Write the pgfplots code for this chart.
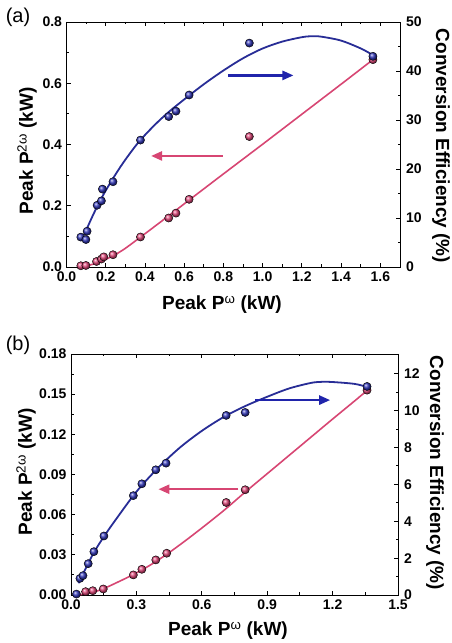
\documentclass[border=0pt]{standalone}
\usepackage{fontspec}
\setmainfont{Liberation Sans}
\usepackage{pgfplots}
\pgfplotsset{compat=1.18}
\usetikzlibrary{arrows.meta}

\definecolor{bline}{RGB}{40,45,150}
\definecolor{bball}{RGB}{50,55,185}
\definecolor{pline}{RGB}{215,70,115}
\definecolor{pball}{RGB}{222,70,120}

\pgfplotsset{
  panel/.style={scale only axis, clip=false, tick align=inside,
    major tick length=4pt, minor tick length=2.5pt,
    axis line style={line width=0.9pt},
    every tick/.style={line width=0.9pt, black},
    tick label style={font=\bfseries\fontsize{14}{14}\selectfont},
    xticklabel style={yshift=-1.5pt},
    yticklabel style={xshift=-1pt},
    /pgf/number format/assume math mode=true,
    minor x tick num=1, minor y tick num=1},
  rpanel/.style={panel, axis x line=none, axis y line*=right,
    yticklabel style={xshift=3.5pt}},
  bfit/.style={bline, line width=1.8pt, smooth, no marks},
  pfit/.style={pline, line width=1.6pt, smooth, no marks},
  bdots/.style={only marks, mark=ball, mark size=4.1pt, mark options={ball color=bball}},
  pdots/.style={only marks, mark=ball, mark size=4.1pt, mark options={ball color=pball}},
}
\tikzset{
  barrow/.style={bline!80!blue, line width=2.4pt, -{Triangle[length=11pt,width=9pt]}},
  parrow/.style={pline, line width=2.4pt, -{Triangle[length=11pt,width=9pt]}},
  lab/.style={font=\bfseries\fontsize{19}{19}\selectfont},
}

\begin{document}
\begin{tikzpicture}
\path[use as bounding box] (0,0) rectangle (451pt,643pt);

% ---------- panel (a) ----------
\begin{axis}[panel, at={(66.5pt,376pt)}, anchor=south west,
  width=333.5pt, height=245pt,
  xmin=0, xmax=1.7, ymin=0, ymax=0.8,
  xtick={0,0.2,0.4,0.6,0.8,1.0,1.2,1.4,1.6},
  ytick={0,0.2,0.4,0.6,0.8}, ytick pos=left,
  xticklabel style={/pgf/number format/.cd, fixed, fixed zerofill, precision=1},
  yticklabel style={/pgf/number format/.cd, fixed, fixed zerofill, precision=1}]
\addplot[pfit] coordinates {
 (0.09,0.002) (0.15,0.012) (0.20,0.025) (0.25,0.041) (0.30,0.061) (0.38,0.099)
 (0.50,0.157) (0.62,0.216) (0.80,0.304) (1.00,0.401) (1.20,0.499) (1.40,0.597) (1.56,0.676)};
\addplot[pdots] coordinates {
 (0.073,0.004) (0.099,0.005) (0.153,0.018) (0.178,0.026) (0.190,0.033) (0.237,0.040)
 (0.377,0.098) (0.521,0.160) (0.558,0.176) (0.625,0.221) (0.932,0.426) (1.562,0.677)};
\draw[parrow] (axis cs:0.797,0.3626) -- (axis cs:0.431,0.3626);
\end{axis}
\begin{axis}[rpanel, at={(66.5pt,376pt)}, anchor=south west,
  width=333.5pt, height=245pt,
  xmin=0, xmax=1.7, ymin=0, ymax=50,
  ytick={0,10,20,30,40,50}]
\addplot[bfit] coordinates {
 (0.09,6.6) (0.14,11.0) (0.19,14.9) (0.25,18.9) (0.30,21.9) (0.37,25.6) (0.45,29.0)
 (0.52,31.6) (0.60,34.2) (0.70,37.3) (0.80,40.1) (0.90,42.6) (1.00,44.6) (1.10,46.0)
 (1.20,46.9) (1.25,47.1) (1.30,47.0) (1.40,46.2) (1.50,44.6) (1.56,43.3)};
\addplot[bdots] coordinates {
 (0.073,6.1) (0.099,5.6) (0.105,7.3) (0.156,12.6) (0.178,13.5) (0.183,15.9) (0.237,17.4)
 (0.377,25.9) (0.521,30.7) (0.558,31.8) (0.625,35.1) (0.932,45.7) (1.562,43.0)};
\draw[barrow] (axis cs:0.824,39.1) -- (axis cs:1.157,39.1);
\end{axis}

% ---------- panel (b) ----------
\begin{axis}[panel, at={(71pt,48pt)}, anchor=south west,
  width=327pt, height=241pt,
  xmin=0, xmax=1.5, ymin=0, ymax=0.18,
  xtick={0,0.3,0.6,0.9,1.2,1.5},
  ytick={0,0.03,0.06,0.09,0.12,0.15,0.18}, ytick pos=left,
  xticklabel style={/pgf/number format/.cd, fixed, fixed zerofill, precision=1},
  yticklabel style={/pgf/number format/.cd, fixed, fixed zerofill, precision=2}]
\addplot[pfit] coordinates {
 (0.03,0.000) (0.08,0.0012) (0.12,0.003) (0.16,0.0055) (0.20,0.0085) (0.28,0.0148)
 (0.36,0.022) (0.44,0.0305) (0.52,0.040) (0.60,0.050) (0.70,0.063) (0.80,0.077)
 (0.90,0.0906) (1.00,0.1042) (1.10,0.1178) (1.20,0.1314) (1.30,0.1448) (1.36,0.153)};
\addplot[pdots] coordinates {
 (0.067,0.0025) (0.100,0.0032) (0.148,0.0045) (0.286,0.0150) (0.325,0.0192)
 (0.389,0.0262) (0.439,0.0312) (0.712,0.0691) (0.799,0.0786) (1.358,0.153)};
\draw[parrow] (axis cs:0.768,0.079) -- (axis cs:0.401,0.079);
\end{axis}
\begin{axis}[rpanel, at={(71pt,48pt)}, anchor=south west,
  width=327pt, height=241pt,
  xmin=0, xmax=1.5, ymin=0, ymax=13.07,
  ytick={0,2,4,6,8,10,12}]
\addplot[bfit] coordinates {
 (0.034,0.64) (0.10,2.2) (0.15,3.15) (0.20,4.0) (0.30,5.6) (0.40,6.9) (0.50,8.0)
 (0.60,8.9) (0.70,9.65) (0.80,10.25) (0.90,10.75) (1.00,11.2) (1.10,11.5)
 (1.15,11.56) (1.20,11.55) (1.30,11.45) (1.36,11.28)};
\addplot[bdots] coordinates {
 (0.025,0.05) (0.041,0.9) (0.055,1.05) (0.079,1.7) (0.105,2.35) (0.151,3.2)
 (0.286,5.39) (0.325,6.03) (0.389,6.79) (0.436,7.15) (0.712,9.74) (0.799,9.9) (1.358,11.31)};
\draw[barrow] (axis cs:0.845,10.57) -- (axis cs:1.189,10.57);
\end{axis}

% ---------- labels ----------
\node[font=\fontsize{20}{20}\selectfont] at (18pt,626pt) {(a)};
\node[font=\fontsize{20}{20}\selectfont] at (18pt,298pt) {(b)};
\node[lab, rotate=90] at (27pt,492pt) {Peak P\textsuperscript{\mdseries 2ω} (kW)};
\node[lab, rotate=-90] at (441pt,497pt) {Conversion Efficiency (\%)};
\node[lab] at (222pt,338pt) {Peak P\textsuperscript{\mdseries ω} (kW)};
\node[lab, rotate=90] at (26pt,171pt) {Peak P\textsuperscript{\mdseries 2ω} (kW)};
\node[lab, rotate=-90] at (435pt,170pt) {Conversion Efficiency (\%)};
\node[lab] at (228pt,12pt) {Peak P\textsuperscript{\mdseries ω} (kW)};
\end{tikzpicture}
\end{document}
